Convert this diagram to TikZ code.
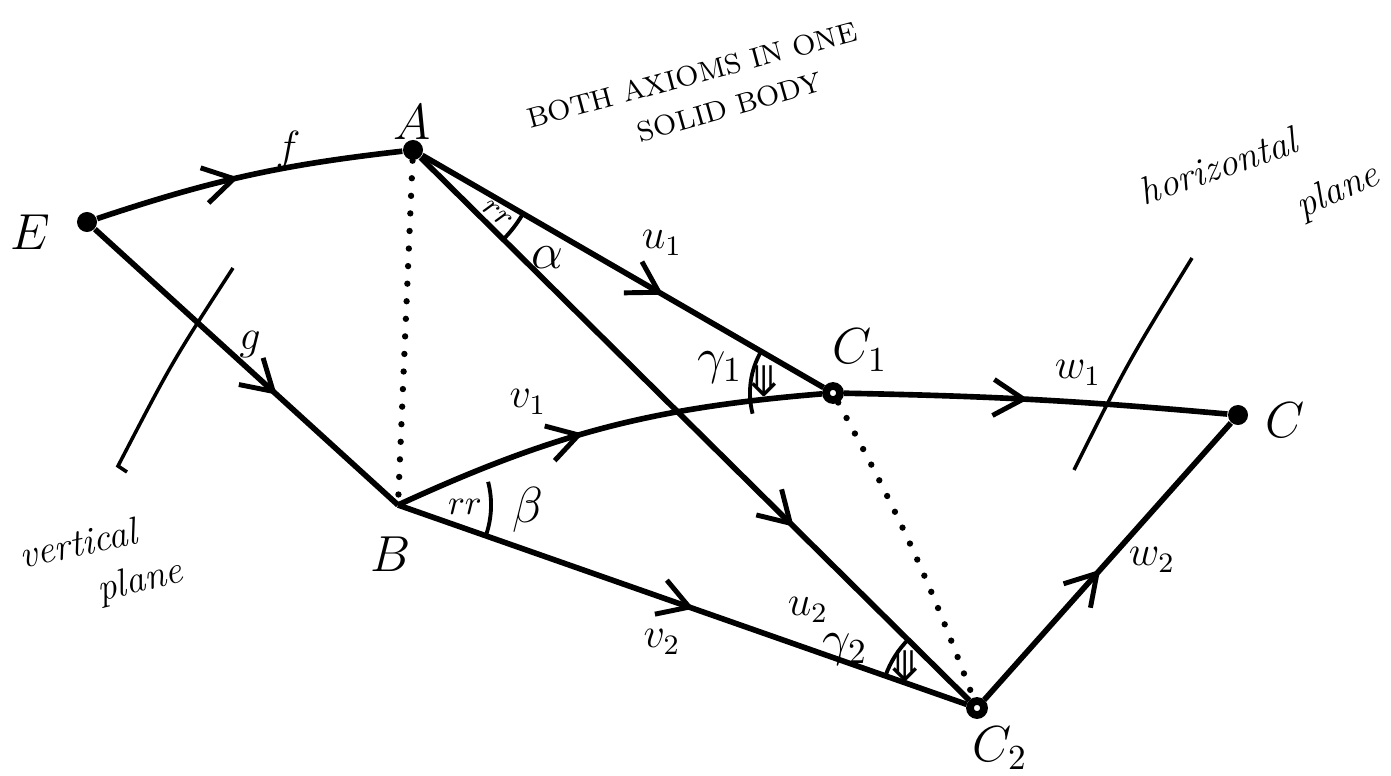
\documentclass[tikz,border=0pt]{standalone}
\usepackage{fontspec}
\newfontfamily\arrowfont{DejaVu Sans}
\usetikzlibrary{arrows.meta, positioning, calc, decorations.markings, angles}

\begin{document}
\begin{tikzpicture}[x=0.01cm, y=-0.01cm,
        dot/.style={circle, fill=black, inner sep=0pt, minimum size=0.2cm},
        ring/.style={circle, draw=black, fill=white, line width=2.2pt, inner sep=0pt, minimum size=0.14cm},
        link/.style={line width=1.6pt, postaction={decorate}, decoration={markings, mark=at position #1 with {\arrow{Straight Barb[length=3mm, width=3.6mm, line width=1.4pt]}}}},
        link/.default=0.5,
        dotline/.style={line width=1.8pt, dash pattern=on 0pt off 5pt, line cap=round},
        ang/.style={draw, line width=1.1pt},
        ptlabel/.style={font=\Large},
        lbl/.style={font=\large},
        note/.style={font=\fontsize{8}{9}\selectfont, inner sep=0pt},
        hand/.style={font=\fontsize{11}{12}\selectfont\itshape, inner sep=0pt}
    ]
        \useasboundingbox (0,0) rectangle (1391,776);

        % points
        \node[dot] (E) at (87,222) {};
        \node[dot] (A) at (413,150) {};
        \coordinate (B) at (398,505);
        \node[ring] (C1) at (833,393) {};
        \node[dot] (C) at (1238,415) {};
        \node[ring] (C2) at (977,708) {};

        % dotted verticals
        \draw[dotline] (A) -- (B);
        \draw[dotline] (C1) to[bend left=4] (C2);

        % arrows
        \draw[link=0.47] (E) to[bend left=6] (A);
        \draw[link=0.6] (E) -- (B);
        \draw[link=0.6] (A) -- (C1);
        \draw[link=0.68] (A) -- (C2);
        \draw[link=0.45] (B) to[bend left=10] (C1);
        \draw[link=0.52] (B) -- (C2);
        \draw[link=0.48] (C1) to[bend left=2] (C);
        \draw[link=0.47] (C2) -- (C);

        % angles
        \pic[ang, angle radius=1.27cm] {angle=C2--A--C1};
        \pic[ang, angle radius=0.93cm] {angle=C2--B--C1};
        \pic[ang, angle radius=0.83cm] {angle=A--C1--B};
        \pic[ang, angle radius=0.97cm] {angle=A--C2--B};

        % point labels
        \node[ptlabel] (lE) at (30,232) {$E$};
        \node[ptlabel] (lA) at (412,122) {$A$};
        \node[ptlabel] (lB) at (391,554) {$B$};
        \node[ptlabel] (lC1) at (860,350) {$C_1$};
        \node[ptlabel] (lC) at (1285,420) {$C$};
        \node[ptlabel] (lC2) at (1000,748) {$C_2$};

        % arrow labels
        \node[lbl] (lf) at (288,150) {$f$};
        \node[lbl] (lg) at (250,345) {$g$};
        \node[lbl] (lu1) at (662,243) {$u_1$};
        \node[lbl] (lu2) at (808,610) {$u_2$};
        \node[lbl] (lv1) at (528,402) {$v_1$};
        \node[lbl] (lv2) at (662,642) {$v_2$};
        \node[lbl] (lw1) at (1078,373) {$w_1$};
        \node[lbl] (lw2) at (1152,560) {$w_2$};

        % angle labels
        \node[ptlabel] (lalpha) at (547,258) {$\alpha$};
        \node[ptlabel] (lbeta) at (528,510) {$\beta$};
        \node[font=\small, rotate=-40, inner sep=0pt] (lrA) at (497,214) {$rr$};
        \node[font=\normalsize] (lrB) at (465,507) {$rr$};
        \node[ptlabel] (lg1) at (720,368) {$\gamma_1$};
        \node[font=\arrowfont\large] (dn1) at (764,381) {⤋};
        \node[ptlabel] (lg2) at (845,650) {$\gamma_2$};
        \node[font=\arrowfont\large] (dn2) at (905,666) {⤋};

        % notes
        \node[note, rotate=15] (ax1) at (692,75) {BOTH AXIOMS IN ONE};
        \node[note, rotate=16] (ax2) at (730,107) {SOLID BODY};
        \node[hand, rotate=12] (vt1) at (78,543) {vertical};
        \node[hand, rotate=14] (vt2) at (140,582) {plane};
        \node[hand, rotate=19] (hz1) at (1218,166) {horizontal};
        \node[hand, rotate=24] (hz2) at (1338,192) {plane};

        % pointers
        \coordinate (vp1) at (233,268);
        \coordinate (vp2) at (118,466);
        \draw[line width=1pt] (vp1) .. controls (172,362) .. (vp2) -- ++(9,6);
        \coordinate (hp1) at (1192,258);
        \coordinate (hp2) at (1074,470);
        \draw[line width=1pt] (hp1) .. controls (1128,362) .. (hp2);
    \end{tikzpicture}
\end{document}
